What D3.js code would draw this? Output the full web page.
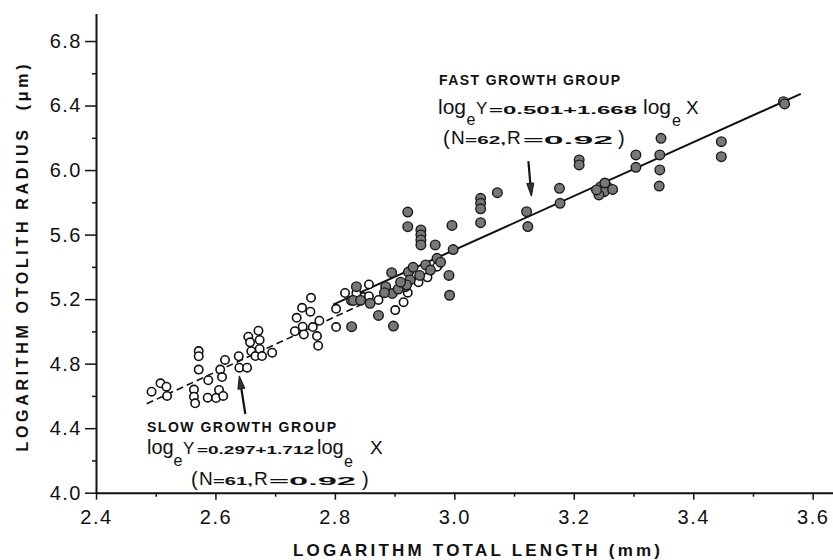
<!DOCTYPE html>
<html>
<head>
<meta charset="utf-8">
<script src="https://cdn.jsdelivr.net/npm/d3@7"></script>
<style>
body { margin: 0; background: #fff; }
svg { display: block; }
text { font-family: "Liberation Sans", Arial, sans-serif; fill: #111; }
</style>
</head>
<body>
<svg id="chart" width="833" height="560"></svg>
<script>
// slow growth group (open circles)
var slowX = [2.493, 2.508, 2.518, 2.519, 2.572, 2.572, 2.572, 2.564, 2.564, 2.566,
             2.588, 2.587, 2.601, 2.606, 2.613, 2.608, 2.611, 2.616, 2.639, 2.640,
             2.653, 2.655, 2.658, 2.660, 2.672, 2.674, 2.667, 2.674, 2.678, 2.695,
             2.736, 2.745, 2.760, 2.759, 2.733, 2.746, 2.748, 2.763, 2.774, 2.770,
             2.772, 2.802, 2.802, 2.827, 2.857, 2.848, 2.857, 2.915, 2.955, 2.971,
             2.922, 2.924, 2.836, 2.873, 2.901, 2.940, 2.817];
var slowY = [4.626, 4.678, 4.657, 4.600, 4.878, 4.846, 4.763, 4.639, 4.595, 4.554,
             4.697, 4.589, 4.587, 4.637, 4.600, 4.763, 4.717, 4.823, 4.846, 4.775,
             4.775, 4.967, 4.932, 4.877, 5.004, 4.947, 4.847, 4.891, 4.847, 4.868,
             5.084, 5.146, 5.208, 5.122, 5.001, 5.029, 4.981, 5.027, 5.066, 4.971,
             4.911, 5.140, 5.027, 5.190, 5.291, 5.213, 5.218, 5.181, 5.335, 5.401,
             5.240, 5.370, 5.237, 5.195, 5.132, 5.305, 5.238];

// fast growth group (filled circles)
var fastX = [2.836, 2.831, 2.828, 2.873, 2.898, 2.885, 2.896, 2.918, 2.922, 2.922,
             2.944, 2.944, 2.944, 2.944, 2.968, 2.996, 2.998, 3.044, 3.044, 3.044,
             3.044, 3.072, 2.971, 2.952, 2.991, 2.992, 2.895, 2.923, 2.942, 2.926,
             2.920, 2.859, 3.121, 3.123, 3.176, 3.177, 3.209, 3.209, 3.245, 3.256,
             3.251, 3.242, 3.304, 3.304, 3.346, 3.344, 3.344, 3.343, 3.447, 3.447,
             3.551, 3.553, 2.906, 2.977, 3.265, 3.238, 3.252, 2.931, 2.843, 2.910,
             2.883, 2.960];
var fastY = [5.277, 5.192, 5.029, 5.099, 5.033, 5.277, 5.235, 5.277, 5.740, 5.649,
             5.629, 5.598, 5.567, 5.536, 5.536, 5.657, 5.507, 5.825, 5.794, 5.760,
             5.674, 5.860, 5.453, 5.412, 5.347, 5.224, 5.364, 5.368, 5.347, 5.319,
             5.288, 5.174, 5.742, 5.650, 5.887, 5.794, 6.063, 6.032, 5.897, 5.897,
             5.866, 5.846, 6.094, 6.017, 6.197, 6.094, 6.001, 5.901, 6.176, 6.083,
             6.424, 6.410, 5.262, 5.429, 5.880, 5.877, 5.920, 5.397, 5.193, 5.305,
             5.240, 5.380];

// regression lines: intercept, slope, x-extent
var slowFit = [0.297, 1.712];
var fastFit = [0.501, 1.668];
var slowSpan = [2.485, 2.98];
var fastSpan = [2.797, 3.58];

var xTicks = [2.4, 2.6, 2.8, 3.0, 3.2, 3.4, 3.6];
var xMinor = [2.5, 2.7, 2.9, 3.1, 3.3, 3.5];
var yTicks = [4.0, 4.4, 4.8, 5.2, 5.6, 6.0, 6.4, 6.8];
var yMinor = [4.2, 4.6, 5.0, 5.4, 5.8, 6.2, 6.6];

// arrows: [tailX, tailY, tipX, tipY] in data units
var slowArrow = [2.650, 4.488, 2.640, 4.724];
var fastArrow = [3.124, 6.055, 3.129, 5.838];

var slowLabel = "SLOW GROWTH GROUP";
var fastLabel = "FAST GROWTH GROUP";
var slowStats = ["=0.297+1.712", "=61,", "=0.92"];
var fastStats = ["=0.501+1.668", "=62,", "=0.92"];


var svg = d3.select("#chart");

var x = d3.scaleLinear().domain([2.4, 3.634]).range([96, 833]);
var y = d3.scaleLinear().domain([4.0, 6.97]).range([492.7, 13.6]);

// axes
svg.append("g")
    .attr("transform", "translate(0," + y(4.0) + ")")
    .call(d3.axisBottom(x).tickValues(xTicks).tickSize(7).tickPadding(10)
          .tickSizeOuter(0).tickFormat(d3.format(".1f")));
svg.append("g")
    .attr("transform", "translate(0," + y(4.0) + ")")
    .call(d3.axisBottom(x).tickValues(xMinor).tickSize(4).tickFormat(""))
    .select(".domain").remove();

svg.append("g")
    .attr("transform", "translate(" + x(2.4) + ",0)")
    .call(d3.axisLeft(y).tickValues(yTicks).tickSize(11).tickPadding(3)
          .tickSizeOuter(0).tickFormat(d3.format(".1f")));
svg.append("g")
    .attr("transform", "translate(" + x(2.4) + ",0)")
    .call(d3.axisLeft(y).tickValues(yMinor).tickSize(4).tickFormat(""))
    .select(".domain").remove();

svg.selectAll(".domain").attr("stroke", "#111").attr("stroke-width", 2);
svg.selectAll(".tick line").attr("stroke", "#111").attr("stroke-width", 1.5);
svg.selectAll(".tick text")
    .attr("font-size", 20)
    .attr("letter-spacing", "1.5px")
    .attr("fill", "#111")
    .style("font-family", "'Liberation Sans', Arial, sans-serif");

// axis titles
svg.append("text")
    .attr("transform", "translate(28,258) rotate(-90)")
    .attr("text-anchor", "middle")
    .attr("font-size", 16)
    .attr("font-weight", "bold")
    .attr("textLength", 387)
    .attr("lengthAdjust", "spacing")
    .style("white-space", "pre")
    .text("LOGARITHM OTOLITH RADIUS  (\u03bcm)");

svg.append("text")
    .attr("x", 476.5)
    .attr("y", 556)
    .attr("text-anchor", "middle")
    .attr("font-size", 17)
    .attr("font-weight", "bold")
    .attr("textLength", 367)
    .attr("lengthAdjust", "spacing")
    .text("LOGARITHM TOTAL LENGTH (mm)");

// regression lines
function fitLine(fit, span) {
  return [[span[0], fit[0] + fit[1] * span[0]], [span[1], fit[0] + fit[1] * span[1]]];
}
var line = d3.line().x(function(d) { return x(d[0]); }).y(function(d) { return y(d[1]); });

svg.append("path")
    .datum(fitLine(slowFit, slowSpan))
    .attr("d", line)
    .attr("fill", "none")
    .attr("stroke", "#111")
    .attr("stroke-width", 1.6)
    .attr("stroke-dasharray", "7,4");

svg.append("path")
    .datum(fitLine(fastFit, fastSpan))
    .attr("d", line)
    .attr("fill", "none")
    .attr("stroke", "#111")
    .attr("stroke-width", 2);

// points
svg.append("g").selectAll("circle")
    .data(slowX)
    .enter().append("circle")
    .attr("cx", function(d) { return x(d); })
    .attr("cy", function(d, i) { return y(slowY[i]); })
    .attr("r", 4.2)
    .attr("fill", "#fff")
    .attr("stroke", "#111")
    .attr("stroke-width", 1.6);

svg.append("g").selectAll("circle")
    .data(fastX)
    .enter().append("circle")
    .attr("cx", function(d) { return x(d); })
    .attr("cy", function(d, i) { return y(fastY[i]); })
    .attr("r", 4.8)
    .attr("fill", "#777")
    .attr("stroke", "#1a1a1a")
    .attr("stroke-width", 1.4);

// arrows
function drawArrow(a) {
  var x0 = x(a[0]), y0 = y(a[1]), x1 = x(a[2]), y1 = y(a[3]);
  var dx = x1 - x0, dy = y1 - y0, len = Math.sqrt(dx * dx + dy * dy);
  var ux = dx / len, uy = dy / len;
  var bx = x1 - ux * 13, by = y1 - uy * 13;
  svg.append("line")
      .attr("x1", x0).attr("y1", y0).attr("x2", bx).attr("y2", by)
      .attr("stroke", "#111").attr("stroke-width", 2.2);
  svg.append("path")
      .attr("d", "M" + x1 + "," + y1 + "L" + (bx - uy * 3.5) + "," + (by + ux * 3.5) +
                 "L" + (bx + uy * 3.5) + "," + (by - ux * 3.5) + "Z")
      .attr("fill", "#333").attr("stroke", "#111").attr("stroke-width", 1);
}
drawArrow(slowArrow);
drawArrow(fastArrow);

// annotation text pieces
function piece(txt, px, py, size, bold, width) {
  var t = svg.append("text")
      .attr("x", px).attr("y", py)
      .attr("font-size", size)
      .attr("font-weight", bold ? "bold" : "normal")
      .text(txt);
  if (width) t.attr("textLength", width).attr("lengthAdjust", "spacingAndGlyphs");
  return t;
}

function annotate(label, stats, o) {
  piece(label, o.lx, o.ly, 14, true, o.lw).attr("lengthAdjust", "spacing");
  var b = o.eb, e = o.e;
  piece("log", e[0], b, o.fs, false);
  piece("e", e[1], b + o.sub, 16, false);
  piece("Y", e[2], b, 17, false);
  piece(stats[0], e[3], b, 11, true, e[4]);
  piece("log", e[5], b, o.fs, false);
  piece("e", e[6], b + o.sub + 1, 16, false);
  piece("X", e[7], b, 19, false);
  var c = o.cb, k = o.c;
  piece("(", k[0], c + 1, 20, false);
  piece("N", k[1], c, 19, false);
  piece(stats[1], k[2], c, 11, true, k[3]);
  piece("R", k[4], c, 19, false);
  piece(stats[2], k[5], c, 11, true, k[6]);
  piece(")", k[7], c + 1, 20, false);
}

annotate(slowLabel, slowStats, {
  lx: 147, ly: 432, lw: 189, fs: 20, sub: 12,
  eb: 454, e: [147, 173.5, 183, 197, 117, 317, 344, 370],
  cb: 485, c: [191, 199, 213, 40, 254, 269, 87, 362]
});

annotate(fastLabel, fastStats, {
  lx: 439, ly: 85, lw: 181, fs: 21, sub: 11,
  eb: 114, e: [438, 466.5, 476, 489, 148, 643, 672, 686],
  cb: 144, c: [443, 451, 465, 41, 507, 523, 90, 618]
});
</script>
</body>
</html>
